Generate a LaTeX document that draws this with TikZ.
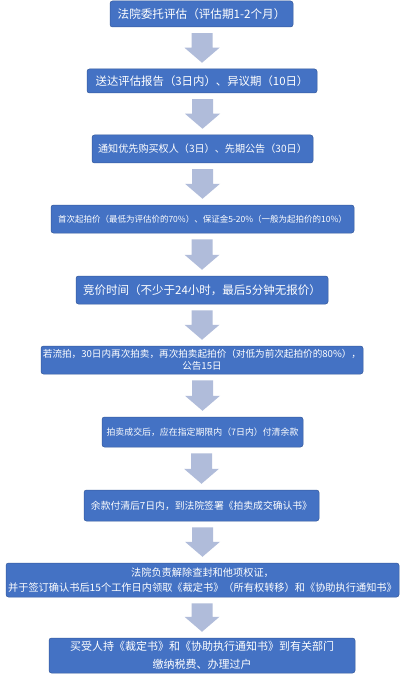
\documentclass[tikz,border=0pt]{standalone}
\usepackage{fontspec}
\setmainfont{Noto Sans CJK SC}
\definecolor{boxblue}{HTML}{4472C4}
\definecolor{arrowgray}{HTML}{B0BCDA}
\usepackage{tikz}
\usetikzlibrary{calc, positioning}

\begin{document}
\begin{tikzpicture}[x=1pt, y=-1pt,
  item/.style={draw=boxblue!80!black, line width=0.5pt, fill=boxblue, rounded corners=2.5pt,
               text=white, align=center, inner sep=0pt},
  flow/.style={fill=arrowgray, draw=none}
]
\useasboundingbox[fill=white] (0,0) rectangle (409,679);

\node[item, minimum width=183pt, minimum height=26pt, font=\fontsize{11.6}{14}\selectfont] (a) at (201.5,14) {法院委托评估（评估期1-2个月）};
\node[item, minimum width=230pt, minimum height=24pt, font=\fontsize{11.4}{14}\selectfont] (b) at (202,81) {送达评估报告（3日内）、异议期（10日）};
\node[item, minimum width=221pt, minimum height=28pt, font=\fontsize{10.1}{13}\selectfont] (c) at (202.5,149) {通知优先购买权人（3日）、先期公告（30日）};
\node[item, minimum width=303pt, minimum height=28pt, font=\fontsize{8.5}{11}\selectfont] (d) at (202.5,219) {首次起拍价（最低为评估价的70\%）、保证金5-20\%（一般为起拍价的10\%）};
\node[item, minimum width=252pt, minimum height=28pt, font=\fontsize{11.5}{14}\selectfont] (e) at (202,290) {竞价时间（不少于24小时，最后5分钟无报价）};
\node[item, minimum width=322pt, minimum height=28pt, font=\fontsize{9.6}{12.5}\selectfont] (f) at (202,360) {若流拍，30日内再次拍卖，再次拍卖起拍价（对低为前次起拍价的80\%），\\公告15日};
\node[item, minimum width=201pt, minimum height=30pt, font=\fontsize{8.9}{11}\selectfont] (g) at (202.5,432) {拍卖成交后，应在指定期限内（7日内）付清余款};
\node[item, minimum width=235pt, minimum height=31pt, font=\fontsize{9.8}{12}\selectfont] (h) at (201.5,505.5) {余款付清后7日内，到法院签署《拍卖成交确认书》};
\node[item, minimum width=393pt, minimum height=34pt, font=\fontsize{10.2}{15}\selectfont] (i) at (202.5,580) {法院负责解除查封和他项权证，\\并于签订确认书后15个工作日内领取《裁定书》（所有权转移）和《协助执行通知书》};
\node[item, minimum width=306pt, minimum height=35pt, font=\fontsize{11}{18}\selectfont] (j) at (202,655.5) {买受人持《裁定书》和《协助执行通知书》到有关部门\\缴纳税费、办理过户};

% block arrows between the steps
\foreach \s/\t in {a/b, b/c, c/d, d/e, e/f, f/g, g/h, h/i, i/j} {
  \coordinate (p) at ($(\s.south -| \t.north)+(0,6)$);
  \coordinate (q) at ($(\t.north)+(0,-6)$);
  \fill[flow] ($(p)+(-10.5,0)$) -- ($(p)+(10.5,0)$) -- ($(q)+(10.5,-15)$) -- ($(q)+(17.5,-15)$)
    -- (q) -- ($(q)+(-17.5,-15)$) -- ($(q)+(-10.5,-15)$) -- cycle;
}
\end{tikzpicture}
\end{document}
